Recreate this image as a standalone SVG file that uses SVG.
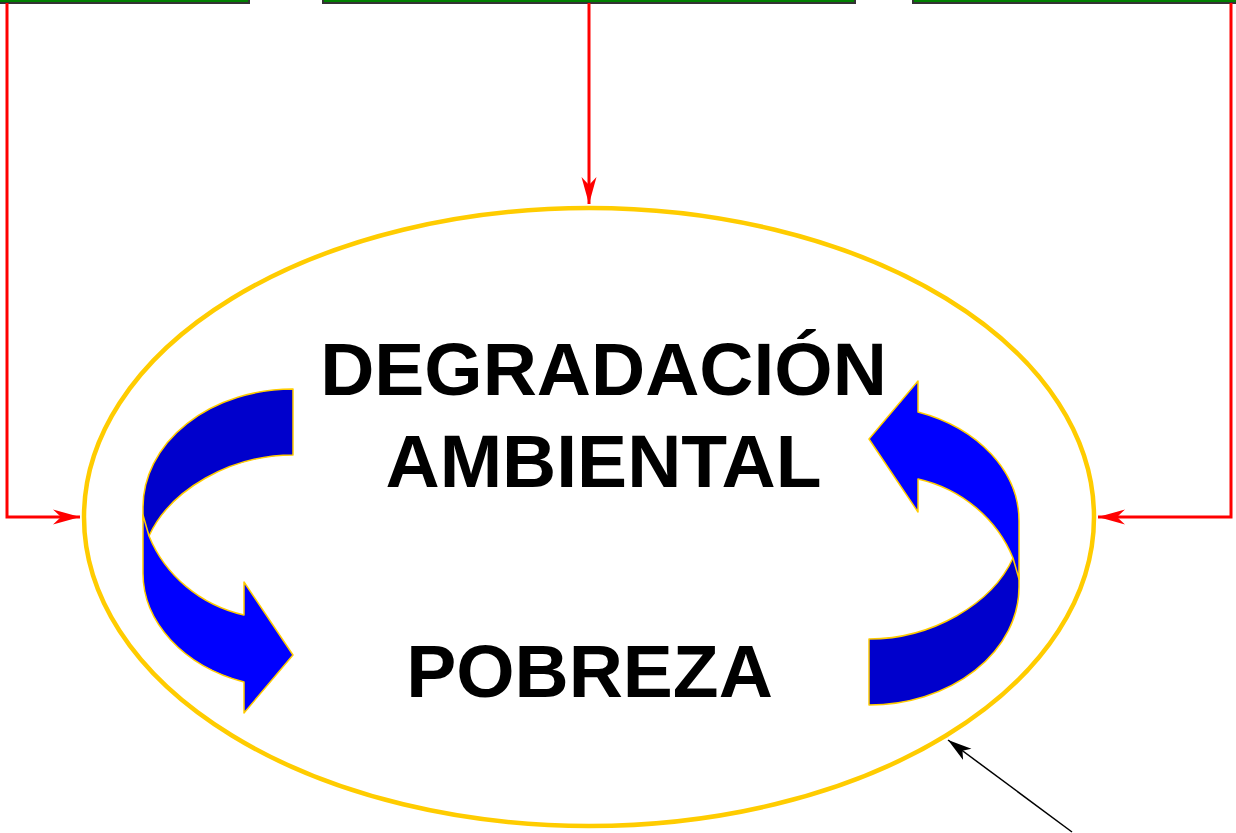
<svg xmlns="http://www.w3.org/2000/svg" xmlns:xlink="http://www.w3.org/1999/xlink" width="1236" height="833" viewBox="0 0 1236 833">
<style>
.box{fill:#008000;stroke:#333333;stroke-width:2}
.red{fill:none;stroke:#FF0000;stroke-width:3}
.lbl{font-family:"Liberation Sans",Arial,sans-serif;font-weight:bold;font-size:75px;fill:#000000;text-anchor:middle}
.dark{fill:#0000CC;stroke:#FFCC00;stroke-width:1.5;stroke-linejoin:round}
.bright{fill:#0000FF;stroke:#FFCC00;stroke-width:1.5;stroke-linejoin:round}
</style>
<defs>
<marker id="ra" markerUnits="userSpaceOnUse" markerWidth="30" markerHeight="20" viewBox="0 0 30 20" refX="27" refY="10" orient="auto">
<path d="M0,2.5 L27,10 L0,17.5 L8,10 Z" fill="#FF0000"/>
</marker>
<marker id="ba" markerUnits="userSpaceOnUse" markerWidth="30" markerHeight="20" viewBox="0 0 30 20" refX="24" refY="10" orient="auto">
<path d="M0,3 L24,10 L0,17 L6,10 Z" fill="#000000"/>
</marker>
<g id="curl">
<path class="dark" d="M293,389 A150,118 0 0 0 143,507 L143,520 L149,536 C170,490 230,455 293,455 Z"/>
<path class="bright" d="M143,515 L143,573 A150,115 0 0 0 244,682 L244,713 L293,655 L244,582 L244,615 C200,605 165,575 149,536 Z"/>
</g>
</defs>
<g id="box-left"><rect class="box" x="-20" y="-50" width="269" height="53"/></g>
<g id="box-center"><rect class="box" x="323" y="-50" width="532" height="53"/></g>
<g id="box-right"><rect class="box" x="913" y="-50" width="340" height="53"/></g>
<g id="ellipse-node">
<ellipse cx="589" cy="517" rx="505" ry="309" fill="none" stroke="#FFCC00" stroke-width="4.5"/>
<text class="lbl" x="603.5" y="395">DEGRADACIÓN</text>
<text class="lbl" x="603.5" y="487">AMBIENTAL</text>
<text class="lbl" x="589.5" y="697">POBREZA</text>
</g>
<g id="cycle-arrow-left"><use xlink:href="#curl" href="#curl"/></g>
<g id="cycle-arrow-right"><use xlink:href="#curl" href="#curl" transform="rotate(180 581 547)"/></g>
<g id="connectors">
<path class="red" d="M7,3 L7,517 L80,517" marker-end="url(#ra)"/>
<path class="red" d="M589,3 L589,204" marker-end="url(#ra)"/>
<path class="red" d="M1231,3 L1231,517 L1098,517" marker-end="url(#ra)"/>
<path d="M1072,832 L948,740" fill="none" stroke="#000000" stroke-width="1.5" marker-end="url(#ba)"/>
</g>
</svg>
